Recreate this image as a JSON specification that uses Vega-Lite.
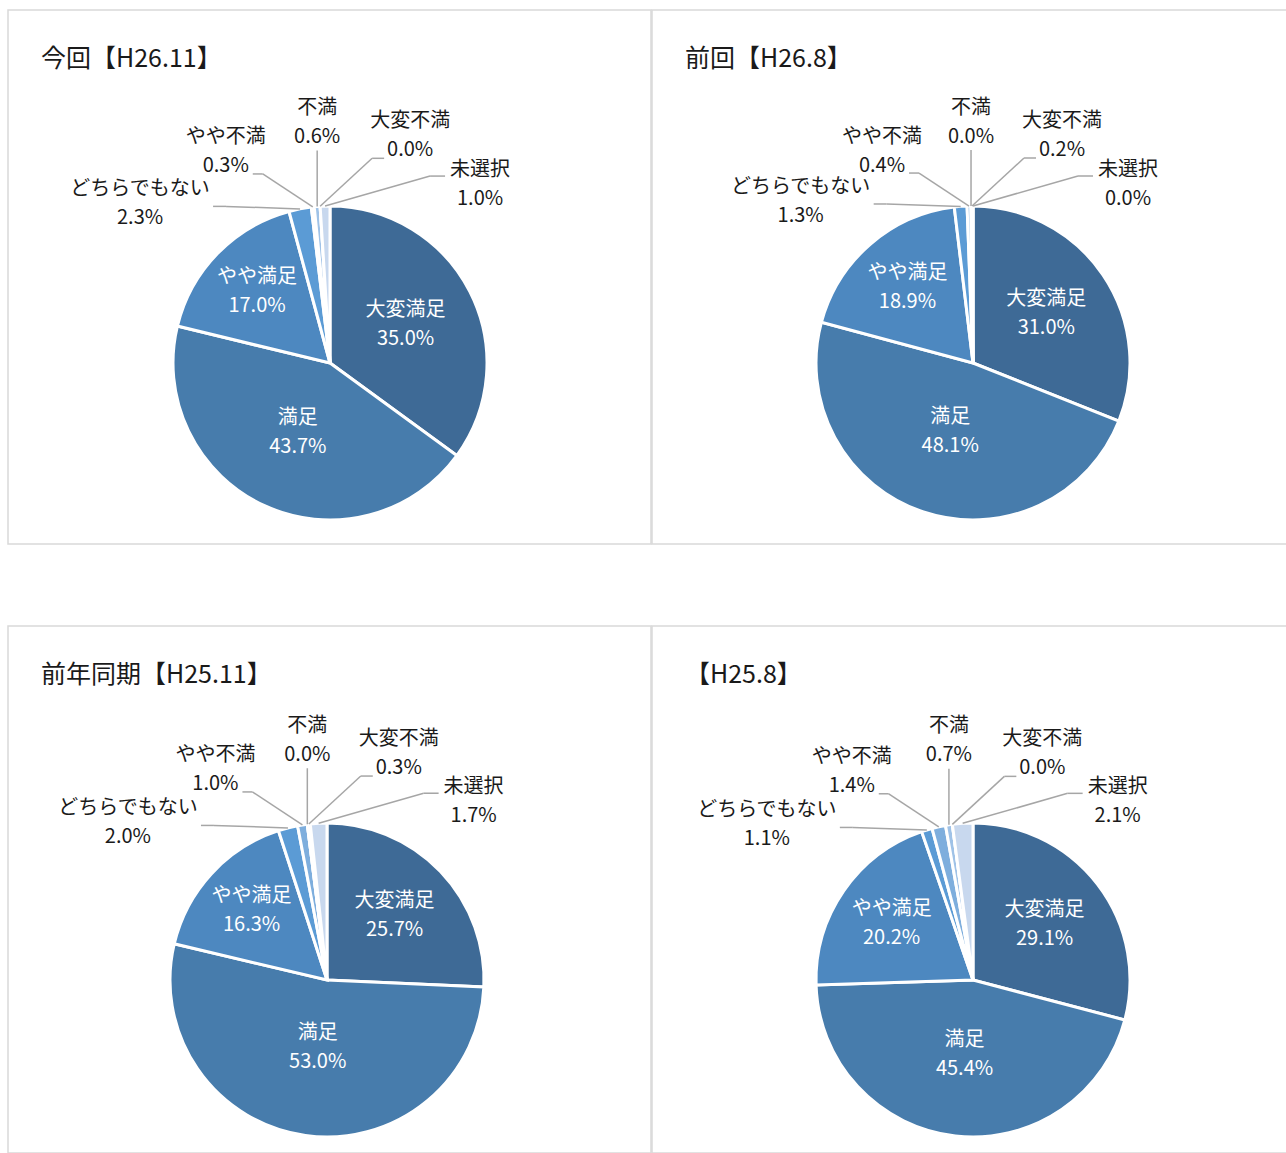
{
  "$schema": "https://vega.github.io/schema/vega-lite/v6.json",
  "padding": {"left": 7, "top": 9, "right": 0, "bottom": 0},
  "background": "white",
  "config": {
    "view": {"stroke": "#d9d9d9", "strokeWidth": 1.5},
    "font": "Noto Sans CJK JP",
    "title": {"font": "Noto Sans CJK JP", "fontSize": 25, "fontWeight": "normal", "color": "#1a1a1a", "anchor": "start", "baseline": "middle", "dx": 33, "offset": -62}
  },
  "datasets": {
    "survey": [
      {"panel": "今回【H26.11】", "o": 1, "name": "大変満足", "value": 35.0},
      {"panel": "今回【H26.11】", "o": 2, "name": "満足", "value": 43.7},
      {"panel": "今回【H26.11】", "o": 3, "name": "やや満足", "value": 17.0},
      {"panel": "今回【H26.11】", "o": 4, "name": "どちらでもない", "value": 2.3},
      {"panel": "今回【H26.11】", "o": 5, "name": "やや不満", "value": 0.3},
      {"panel": "今回【H26.11】", "o": 6, "name": "不満", "value": 0.6},
      {"panel": "今回【H26.11】", "o": 7, "name": "大変不満", "value": 0.0},
      {"panel": "今回【H26.11】", "o": 8, "name": "未選択", "value": 1.0},
      {"panel": "前回【H26.8】", "o": 1, "name": "大変満足", "value": 31.0},
      {"panel": "前回【H26.8】", "o": 2, "name": "満足", "value": 48.1},
      {"panel": "前回【H26.8】", "o": 3, "name": "やや満足", "value": 18.9},
      {"panel": "前回【H26.8】", "o": 4, "name": "どちらでもない", "value": 1.3},
      {"panel": "前回【H26.8】", "o": 5, "name": "やや不満", "value": 0.4},
      {"panel": "前回【H26.8】", "o": 6, "name": "不満", "value": 0.0},
      {"panel": "前回【H26.8】", "o": 7, "name": "大変不満", "value": 0.2},
      {"panel": "前回【H26.8】", "o": 8, "name": "未選択", "value": 0.0},
      {"panel": "前年同期【H25.11】", "o": 1, "name": "大変満足", "value": 25.7},
      {"panel": "前年同期【H25.11】", "o": 2, "name": "満足", "value": 53.0},
      {"panel": "前年同期【H25.11】", "o": 3, "name": "やや満足", "value": 16.3},
      {"panel": "前年同期【H25.11】", "o": 4, "name": "どちらでもない", "value": 2.0},
      {"panel": "前年同期【H25.11】", "o": 5, "name": "やや不満", "value": 1.0},
      {"panel": "前年同期【H25.11】", "o": 6, "name": "不満", "value": 0.0},
      {"panel": "前年同期【H25.11】", "o": 7, "name": "大変不満", "value": 0.3},
      {"panel": "前年同期【H25.11】", "o": 8, "name": "未選択", "value": 1.7},
      {"panel": "【H25.8】", "o": 1, "name": "大変満足", "value": 29.1},
      {"panel": "【H25.8】", "o": 2, "name": "満足", "value": 45.4},
      {"panel": "【H25.8】", "o": 3, "name": "やや満足", "value": 20.2},
      {"panel": "【H25.8】", "o": 4, "name": "どちらでもない", "value": 1.1},
      {"panel": "【H25.8】", "o": 5, "name": "やや不満", "value": 1.4},
      {"panel": "【H25.8】", "o": 6, "name": "不満", "value": 0.7},
      {"panel": "【H25.8】", "o": 7, "name": "大変不満", "value": 0.0},
      {"panel": "【H25.8】", "o": 8, "name": "未選択", "value": 2.1}
    ]
  },
  "data": {"name": "survey"},
  "transform": [
    {"window": [{"op": "sum", "field": "value", "as": "cum"}], "groupby": ["panel"], "sort": [{"field": "o"}], "frame": [null, 0]},
    {"joinaggregate": [{"op": "sum", "field": "value", "as": "total"}], "groupby": ["panel"]},
    {"calculate": "2*PI*(datum.cum - datum.value/2)/datum.total", "as": "mid"},
    {"calculate": "157*sin(datum.mid)", "as": "px"},
    {"calculate": "-157*cos(datum.mid)", "as": "py"},
    {"calculate": "118 - 0.95*datum.value", "as": "ir"},
    {"calculate": "datum.ir*sin(datum.mid)", "as": "ix"},
    {"calculate": "-datum.ir*cos(datum.mid)", "as": "iy"},
    {"calculate": "max(0, datum.o - 4)", "as": "slot"},
    {"calculate": "datum.px + [-160,-87,0,90,155][datum.slot]", "as": "lx"},
    {"calculate": "datum.py + [-5,-55,-84,-71,-22][datum.slot]", "as": "ly"},
    {"calculate": "datum.slot == 2 ? datum.px : datum.lx + [73,27,0,-26,-35][datum.slot]", "as": "ex"},
    {"calculate": "datum.ly + [2.5,22,28,23,-8][datum.slot]", "as": "ey"},
    {"calculate": "datum.ex + [13,10,0,-12,-15][datum.slot]", "as": "e2x"},
    {"calculate": "datum.name + '\\n' + format(datum.value, '.1f') + '%'", "as": "label"}
  ],
  "spacing": 80,
  "vconcat": [
    {
      "spacing": -2,
      "hconcat": [
        {
          "title": "今回【H26.11】",
          "width": 643, "height": 534,
          "transform": [{"filter": "datum.panel == '今回【H26.11】'"}],
          "encoding": {
            "x": {"type": "quantitative", "scale": {"domain": [-322, 321], "nice": false, "zero": false}, "axis": null},
            "y": {"type": "quantitative", "scale": {"domain": [-353, 181], "nice": false, "zero": false, "reverse": true}, "axis": null}
          },
          "layer": [
            {"mark": {"type": "arc", "outerRadius": 157, "stroke": "white", "strokeWidth": 3},
             "encoding": {
               "x": {"datum": 0, "type": "quantitative"}, "y": {"datum": 0, "type": "quantitative"},
               "theta": {"field": "value", "type": "quantitative", "stack": true},
               "order": {"field": "o", "type": "quantitative"},
               "color": {"field": "name", "type": "nominal", "legend": null, "scale": {"domain": ["大変満足","満足","やや満足","どちらでもない","やや不満","不満","大変不満","未選択"], "range": ["#3e6a96","#477cac","#4d88c0","#5b9bd5","#7eaedd","#9fc2e7","#b3cfec","#c8d8ee"]}}
             }},
            {"transform": [{"filter": "datum.o >= 4"}], "mark": {"type": "rule", "color": "#a6a6a6", "strokeWidth": 1.5},
             "encoding": {"x": {"field": "e2x"}, "y": {"field": "ey"}, "x2": {"field": "px"}, "y2": {"field": "py"}}},
            {"transform": [{"filter": "datum.o >= 4"}], "mark": {"type": "rule", "color": "#a6a6a6", "strokeWidth": 1.5},
             "encoding": {"x": {"field": "ex"}, "y": {"field": "ey"}, "x2": {"field": "e2x"}, "y2": {"field": "ey"}}},
            {"transform": [{"filter": "datum.o <= 3"}], "mark": {"type": "text", "color": "white", "fontSize": 20, "lineBreak": "\n", "lineHeight": 29, "baseline": "middle", "align": "center", "dy": -14.5},
             "encoding": {"x": {"field": "ix"}, "y": {"field": "iy"}, "text": {"field": "label"}}},
            {"transform": [{"filter": "datum.o >= 4"}], "mark": {"type": "text", "color": "#1a1a1a", "fontSize": 20, "lineBreak": "\n", "lineHeight": 29, "baseline": "middle", "align": "center", "dy": -14.5},
             "encoding": {"x": {"field": "lx"}, "y": {"field": "ly"}, "text": {"field": "label"}}}
          ]
        },
        {
          "title": "前回【H26.8】",
          "width": 636, "height": 534,
          "transform": [{"filter": "datum.panel == '前回【H26.8】'"}],
          "encoding": {
            "x": {"type": "quantitative", "scale": {"domain": [-321, 315], "nice": false, "zero": false}, "axis": null},
            "y": {"type": "quantitative", "scale": {"domain": [-353, 181], "nice": false, "zero": false, "reverse": true}, "axis": null}
          },
          "layer": [
            {"mark": {"type": "arc", "outerRadius": 157, "stroke": "white", "strokeWidth": 3},
             "encoding": {
               "x": {"datum": 0, "type": "quantitative"}, "y": {"datum": 0, "type": "quantitative"},
               "theta": {"field": "value", "type": "quantitative", "stack": true},
               "order": {"field": "o", "type": "quantitative"},
               "color": {"field": "name", "type": "nominal", "legend": null, "scale": {"domain": ["大変満足","満足","やや満足","どちらでもない","やや不満","不満","大変不満","未選択"], "range": ["#3e6a96","#477cac","#4d88c0","#5b9bd5","#7eaedd","#9fc2e7","#b3cfec","#c8d8ee"]}}
             }},
            {"transform": [{"filter": "datum.o >= 4"}], "mark": {"type": "rule", "color": "#a6a6a6", "strokeWidth": 1.5},
             "encoding": {"x": {"field": "e2x"}, "y": {"field": "ey"}, "x2": {"field": "px"}, "y2": {"field": "py"}}},
            {"transform": [{"filter": "datum.o >= 4"}], "mark": {"type": "rule", "color": "#a6a6a6", "strokeWidth": 1.5},
             "encoding": {"x": {"field": "ex"}, "y": {"field": "ey"}, "x2": {"field": "e2x"}, "y2": {"field": "ey"}}},
            {"transform": [{"filter": "datum.o <= 3"}], "mark": {"type": "text", "color": "white", "fontSize": 20, "lineBreak": "\n", "lineHeight": 29, "baseline": "middle", "align": "center", "dy": -14.5},
             "encoding": {"x": {"field": "ix"}, "y": {"field": "iy"}, "text": {"field": "label"}}},
            {"transform": [{"filter": "datum.o >= 4"}], "mark": {"type": "text", "color": "#1a1a1a", "fontSize": 20, "lineBreak": "\n", "lineHeight": 29, "baseline": "middle", "align": "center", "dy": -14.5},
             "encoding": {"x": {"field": "lx"}, "y": {"field": "ly"}, "text": {"field": "label"}}}
          ]
        }
      ]
    },
    {
      "spacing": -2,
      "hconcat": [
        {
          "title": "前年同期【H25.11】",
          "width": 643, "height": 527,
          "transform": [{"filter": "datum.panel == '前年同期【H25.11】'"}],
          "encoding": {
            "x": {"type": "quantitative", "scale": {"domain": [-319, 324], "nice": false, "zero": false}, "axis": null},
            "y": {"type": "quantitative", "scale": {"domain": [-354, 173], "nice": false, "zero": false, "reverse": true}, "axis": null}
          },
          "layer": [
            {"mark": {"type": "arc", "outerRadius": 157, "stroke": "white", "strokeWidth": 3},
             "encoding": {
               "x": {"datum": 0, "type": "quantitative"}, "y": {"datum": 0, "type": "quantitative"},
               "theta": {"field": "value", "type": "quantitative", "stack": true},
               "order": {"field": "o", "type": "quantitative"},
               "color": {"field": "name", "type": "nominal", "legend": null, "scale": {"domain": ["大変満足","満足","やや満足","どちらでもない","やや不満","不満","大変不満","未選択"], "range": ["#3e6a96","#477cac","#4d88c0","#5b9bd5","#7eaedd","#9fc2e7","#b3cfec","#c8d8ee"]}}
             }},
            {"transform": [{"filter": "datum.o >= 4"}], "mark": {"type": "rule", "color": "#a6a6a6", "strokeWidth": 1.5},
             "encoding": {"x": {"field": "e2x"}, "y": {"field": "ey"}, "x2": {"field": "px"}, "y2": {"field": "py"}}},
            {"transform": [{"filter": "datum.o >= 4"}], "mark": {"type": "rule", "color": "#a6a6a6", "strokeWidth": 1.5},
             "encoding": {"x": {"field": "ex"}, "y": {"field": "ey"}, "x2": {"field": "e2x"}, "y2": {"field": "ey"}}},
            {"transform": [{"filter": "datum.o <= 3"}], "mark": {"type": "text", "color": "white", "fontSize": 20, "lineBreak": "\n", "lineHeight": 29, "baseline": "middle", "align": "center", "dy": -14.5},
             "encoding": {"x": {"field": "ix"}, "y": {"field": "iy"}, "text": {"field": "label"}}},
            {"transform": [{"filter": "datum.o >= 4"}], "mark": {"type": "text", "color": "#1a1a1a", "fontSize": 20, "lineBreak": "\n", "lineHeight": 29, "baseline": "middle", "align": "center", "dy": -14.5},
             "encoding": {"x": {"field": "lx"}, "y": {"field": "ly"}, "text": {"field": "label"}}}
          ]
        },
        {
          "title": "【H25.8】",
          "width": 636, "height": 527,
          "transform": [{"filter": "datum.panel == '【H25.8】'"}],
          "encoding": {
            "x": {"type": "quantitative", "scale": {"domain": [-321, 315], "nice": false, "zero": false}, "axis": null},
            "y": {"type": "quantitative", "scale": {"domain": [-354, 173], "nice": false, "zero": false, "reverse": true}, "axis": null}
          },
          "layer": [
            {"mark": {"type": "arc", "outerRadius": 157, "stroke": "white", "strokeWidth": 3},
             "encoding": {
               "x": {"datum": 0, "type": "quantitative"}, "y": {"datum": 0, "type": "quantitative"},
               "theta": {"field": "value", "type": "quantitative", "stack": true},
               "order": {"field": "o", "type": "quantitative"},
               "color": {"field": "name", "type": "nominal", "legend": null, "scale": {"domain": ["大変満足","満足","やや満足","どちらでもない","やや不満","不満","大変不満","未選択"], "range": ["#3e6a96","#477cac","#4d88c0","#5b9bd5","#7eaedd","#9fc2e7","#b3cfec","#c8d8ee"]}}
             }},
            {"transform": [{"filter": "datum.o >= 4"}], "mark": {"type": "rule", "color": "#a6a6a6", "strokeWidth": 1.5},
             "encoding": {"x": {"field": "e2x"}, "y": {"field": "ey"}, "x2": {"field": "px"}, "y2": {"field": "py"}}},
            {"transform": [{"filter": "datum.o >= 4"}], "mark": {"type": "rule", "color": "#a6a6a6", "strokeWidth": 1.5},
             "encoding": {"x": {"field": "ex"}, "y": {"field": "ey"}, "x2": {"field": "e2x"}, "y2": {"field": "ey"}}},
            {"transform": [{"filter": "datum.o <= 3"}], "mark": {"type": "text", "color": "white", "fontSize": 20, "lineBreak": "\n", "lineHeight": 29, "baseline": "middle", "align": "center", "dy": -14.5},
             "encoding": {"x": {"field": "ix"}, "y": {"field": "iy"}, "text": {"field": "label"}}},
            {"transform": [{"filter": "datum.o >= 4"}], "mark": {"type": "text", "color": "#1a1a1a", "fontSize": 20, "lineBreak": "\n", "lineHeight": 29, "baseline": "middle", "align": "center", "dy": -14.5},
             "encoding": {"x": {"field": "lx"}, "y": {"field": "ly"}, "text": {"field": "label"}}}
          ]
        }
      ]
    }
  ]
}
